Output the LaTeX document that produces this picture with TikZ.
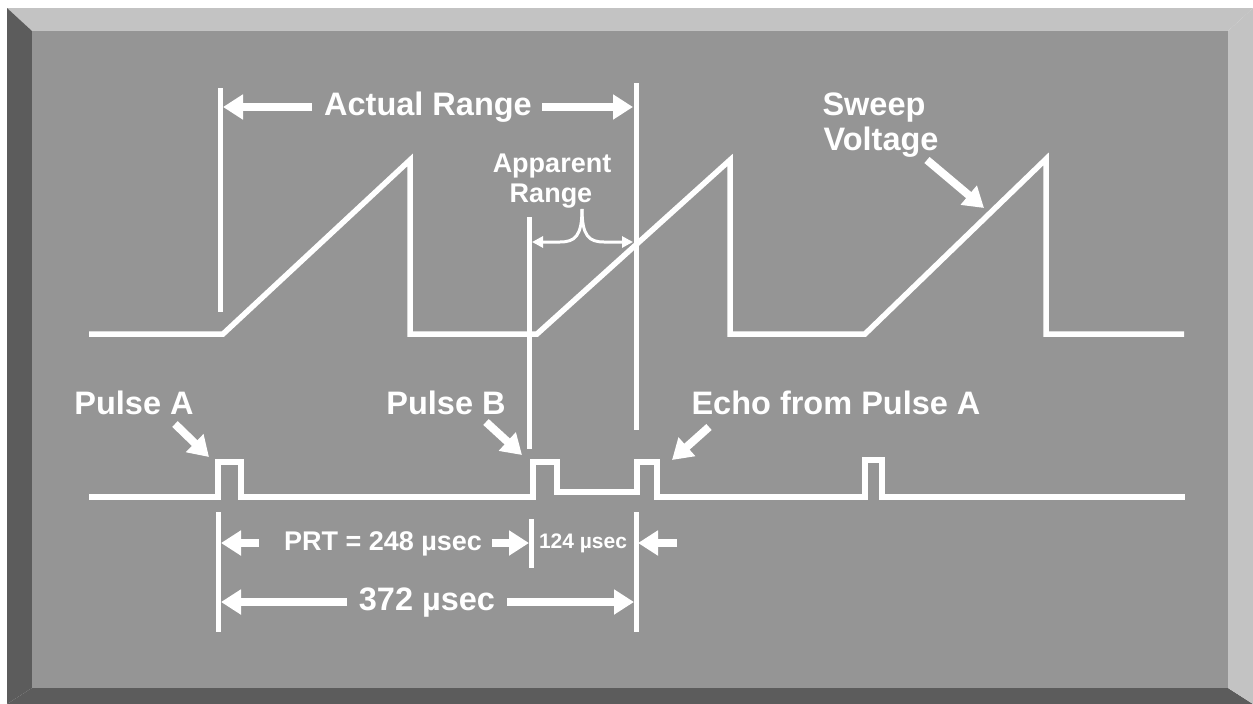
\documentclass[tikz,border=0pt]{standalone}
\usepackage{fontspec}
\setmainfont{Liberation Sans}
\usetikzlibrary{arrows.meta}
\definecolor{face}{RGB}{149,149,149}
\definecolor{bevlight}{RGB}{195,195,195}
\definecolor{bevdark}{RGB}{92,92,92}
\begin{document}
\begin{tikzpicture}[x=1pt,y=-1pt,
  wave/.style={draw=white,line width=5.5pt,line join=miter},
  marker/.style={draw=white,line width=5pt},
  bigarrow/.style={draw=white,line width=8pt,-{Triangle[length=20pt,width=24pt]}},
  thinarrow/.style={draw=white,line width=3pt,-{Triangle[length=11pt,width=11pt]}},
  lbl/.style={text=white,inner sep=0pt,anchor=base,font=\fontsize{32.5}{38}\selectfont\bfseries},
  midlbl/.style={lbl,font=\fontsize{27}{32}\selectfont\bfseries},
  smalllbl/.style={lbl,font=\fontsize{21}{25}\selectfont\bfseries}]
\useasboundingbox (0,0) rectangle (1253,704);
% frame
\fill[white] (0,0) rectangle (1253,704);
\fill[bevlight] (7,8) -- (1253,8) -- (1228,31) -- (32,31) -- cycle;
\fill[bevdark] (7,8) -- (32,31) -- (32,688) -- (7,704) -- cycle;
\fill[bevdark] (7,704) -- (32,688) -- (1228,688) -- (1253,704) -- cycle;
\fill[bevlight] (1253,8) -- (1253,704) -- (1228,688) -- (1228,31) -- cycle;
\fill[face] (32,31) rectangle (1228,688);

% sweep voltage waveform
\draw[wave] (89,334) -- (223,334) -- (410,160) -- (410,334) -- (537,334)
  -- (730,160) -- (730,334) -- (865,334) -- (1046,159) -- (1046,334) -- (1184,334);

% pulse train
\draw[wave] (89,497) -- (218,497) -- (218,462) -- (241,462) -- (241,497)
  -- (533,497) -- (533,462) -- (557,462) -- (557,492) -- (637,492)
  -- (637,462) -- (657,462) -- (657,497) -- (865,497) -- (865,460)
  -- (882,460) -- (882,497) -- (1185,497);

% marker lines
\coordinate (mAt) at (220,88);  \coordinate (mAb) at (220,312);
\coordinate (mBt) at (636,83);  \coordinate (mBb) at (636,430);
\coordinate (mCt) at (529,217); \coordinate (mCb) at (529,449);
\coordinate (bAt) at (218,512); \coordinate (bAb) at (218,632);
\coordinate (bBt) at (636,512); \coordinate (bBb) at (636,632);
\coordinate (bCt) at (531,519); \coordinate (bCb) at (531,568);
\draw[marker] (mAt) -- (mAb);
\draw[marker] (mBt) -- (mBb);
\draw[marker] (mCt) -- (mCb);
\draw[marker] (bAt) -- (bAb);
\draw[marker] (bBt) -- (bBb);
\draw[marker] (bCt) -- (bCb);

% Actual range
\node[lbl] (actual) at (428,115) {Actual Range};
\coordinate (arLt) at (312,107); \coordinate (arLh) at (223,107);
\coordinate (arRt) at (542,107); \coordinate (arRh) at (633,107);
\draw[bigarrow] (arLt) -- (arLh);
\draw[bigarrow] (arRt) -- (arRh);

% Apparent range
\node[midlbl] (app1) at (552,172) {Apparent};
\node[midlbl] (app2) at (551,202) {Range};
\coordinate (brace) at (582,209);
\coordinate (apL) at (532,242);
\coordinate (apR) at (633,242);
\draw[thinarrow] (brace) .. controls (582,236) and (575,242) .. (560,242) -- (apL);
\draw[thinarrow] (brace) .. controls (582,236) and (589,242) .. (604,242) -- (apR);

% Sweep voltage
\node[lbl] (sw1) at (874,115) {Sweep};
\node[lbl] (sw2) at (881,150) {Voltage};
\coordinate (swT) at (927,160); \coordinate (swH) at (984,208);
\draw[bigarrow] (swT) -- (swH);

% pulse labels
\node[lbl] (pa) at (134,414) {Pulse A};
\node[lbl] (pb) at (446,414) {Pulse B};
\node[lbl] (echo) at (836,414) {Echo from Pulse A};
\coordinate (paT) at (175,424); \coordinate (paH) at (209,457);
\coordinate (pbT) at (486,422); \coordinate (pbH) at (522,455);
\coordinate (ecT) at (709,427); \coordinate (ecH) at (672,460);
\draw[bigarrow] (paT) -- (paH);
\draw[bigarrow] (pbT) -- (pbH);
\draw[bigarrow] (ecT) -- (ecH);

% timing
\node[midlbl] (prt) at (383,550) {PRT = 248 µsec};
\node[smalllbl] (half) at (583,548) {124 µsec};
\node[lbl] (full) at (427,610) {372 µsec};
\coordinate (p1T) at (259,543); \coordinate (p1H) at (221,543);
\coordinate (p2T) at (492,543); \coordinate (p2H) at (529,543);
\coordinate (p3T) at (677,543); \coordinate (p3H) at (638,543);
\coordinate (f1T) at (347,602); \coordinate (f1H) at (221,602);
\coordinate (f2T) at (507,602); \coordinate (f2H) at (634,602);
\draw[bigarrow] (p1T) -- (p1H);
\draw[bigarrow] (p2T) -- (p2H);
\draw[bigarrow] (p3T) -- (p3H);
\draw[bigarrow] (f1T) -- (f1H);
\draw[bigarrow] (f2T) -- (f2H);
\end{tikzpicture}
\end{document}
